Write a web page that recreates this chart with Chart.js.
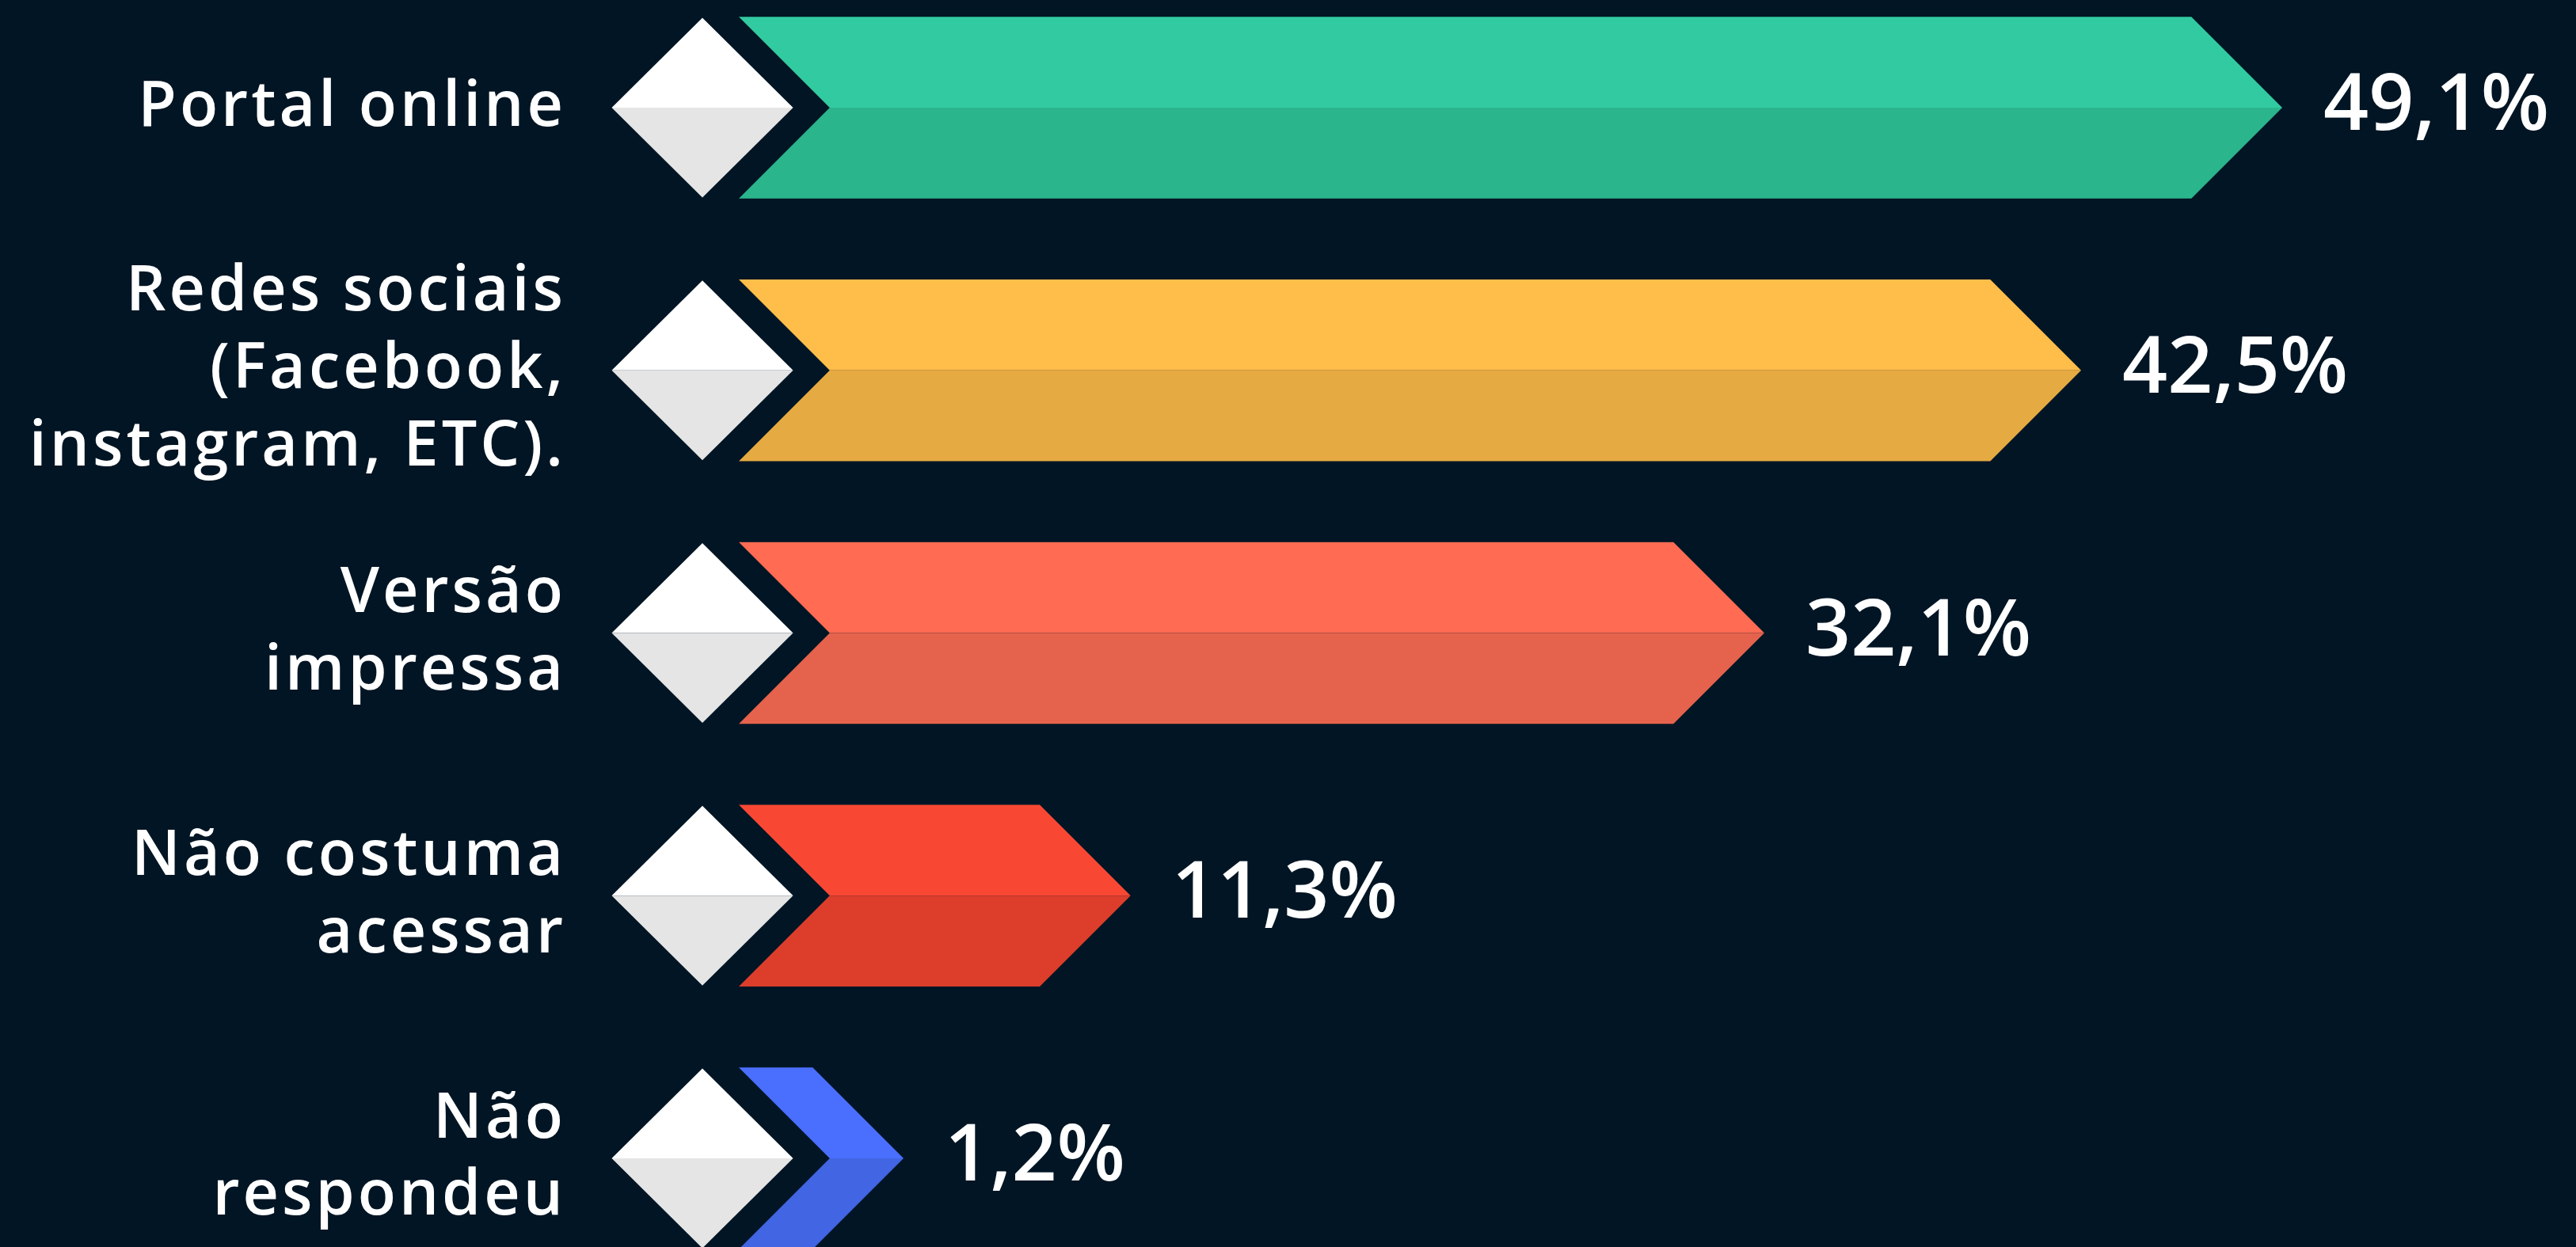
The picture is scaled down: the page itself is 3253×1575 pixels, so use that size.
<!DOCTYPE html>
<html>
<head>
<meta charset="utf-8">
<script src="https://cdn.jsdelivr.net/npm/chart.js@4/dist/chart.umd.min.js"></script>
<style>
  html, body { margin: 0; padding: 0; background: #011524; }
  #wrap { width: 3253px; height: 1575px; position: relative; }
</style>
</head>
<body>
<div id="wrap"><canvas id="c"></canvas></div>
<script>
// ---- data ----
const categories = [
  ["Portal online"],
  ["Redes sociais", "(Facebook,", "instagram, ETC)."],
  ["Versão", "impressa"],
  ["Não costuma", "acessar"],
  ["Não", "respondeu"]
];
const values = [49.1, 42.5, 32.1, 11.3, 1.2];
const topColors = ["#32CAA0", "#FFBD4A", "#FF6B53", "#F84834", "#4A6FFF"];
const bottomColors = ["#2BB58D", "#E6AA43", "#E5634D", "#DD3E2C", "#4265E4"];

const BG = "#011524";
const FONT = "'Open Sans', 'Noto Sans', sans-serif";

function fmt(v) { return v.toFixed(1).replace('.', ',') + '%'; }

const chevronPlugin = {
  id: 'chevrons',
  beforeDraw(chart) {
    const ctx = chart.ctx;
    ctx.save();
    ctx.fillStyle = BG;
    ctx.fillRect(0, 0, chart.width, chart.height);
    ctx.restore();
    // widen the category labels a little (set on the base state so the axis draw uses it)
    ctx.letterSpacing = '4px';
  },
  afterDatasetsDraw(chart) {
    const ctx = chart.ctx;
    const meta = chart.getDatasetMeta(0);
    ctx.save();
    ctx.letterSpacing = '0px';
    meta.data.forEach((el, i) => {
      const p = el.getProps(['x', 'y', 'base', 'height'], true);
      const cy = p.y;
      const h = p.height;
      const half = h / 2;
      const left = p.base - 60;
      const tip = Math.max(p.x, p.base + 148);
      const top = cy - half, bottom = cy + half;

      // diamond
      const dcx = p.base - 106, dhw = 114.5, dhh = 113.5;
      ctx.fillStyle = '#FFFFFF';
      ctx.beginPath();
      ctx.moveTo(dcx - dhw, cy); ctx.lineTo(dcx, cy - dhh); ctx.lineTo(dcx + dhw, cy);
      ctx.closePath(); ctx.fill();
      ctx.fillStyle = '#E5E5E5';
      ctx.beginPath();
      ctx.moveTo(dcx - dhw, cy); ctx.lineTo(dcx + dhw, cy); ctx.lineTo(dcx, cy + dhh);
      ctx.closePath(); ctx.fill();

      // chevron bar: top half
      ctx.fillStyle = topColors[i];
      ctx.beginPath();
      ctx.moveTo(left, top); ctx.lineTo(tip - half, top); ctx.lineTo(tip, cy); ctx.lineTo(left + half, cy);
      ctx.closePath(); ctx.fill();
      // bottom half
      ctx.fillStyle = bottomColors[i];
      ctx.beginPath();
      ctx.moveTo(left + half, cy); ctx.lineTo(tip, cy); ctx.lineTo(tip - half, bottom); ctx.lineTo(left, bottom);
      ctx.closePath(); ctx.fill();

      // value label
      ctx.fillStyle = '#FFFFFF';
      ctx.font = "600 100px " + FONT;
      ctx.textAlign = 'left';
      ctx.textBaseline = 'alphabetic';
      ctx.fillText(fmt(values[i]), tip + 52, cy + 28);
    });
    ctx.restore();
  }
};

new Chart(document.getElementById('c'), {
  type: 'bar',
  data: {
    labels: categories,
    datasets: [{
      data: values,
      backgroundColor: 'rgba(0,0,0,0)',
      borderWidth: 0,
      barThickness: 229.5
    }]
  },
  options: {
    indexAxis: 'y',
    responsive: true,
    maintainAspectRatio: false,
    animation: false,
    events: [],
    layout: { padding: { top: 136, bottom: 112, left: 0, right: 144 } },
    plugins: { legend: { display: false }, tooltip: { enabled: false } },
    scales: {
      x: {
        display: false,
        min: 0,
        max: 55
      },
      y: {
        offset: false,
        grid: { display: false, drawTicks: false },
        border: { display: false },
        ticks: {
          color: '#FFFFFF',
          padding: 278,
          font: { family: FONT, size: 79, weight: '600', lineHeight: 1.24 }
        },
        afterFit(scale) {
          scale.width = 993;
          scale.paddingTop = 0;
          scale.paddingBottom = 0;
        }
      }
    }
  },
  plugins: [chevronPlugin]
});
</script>
</body>
</html>
